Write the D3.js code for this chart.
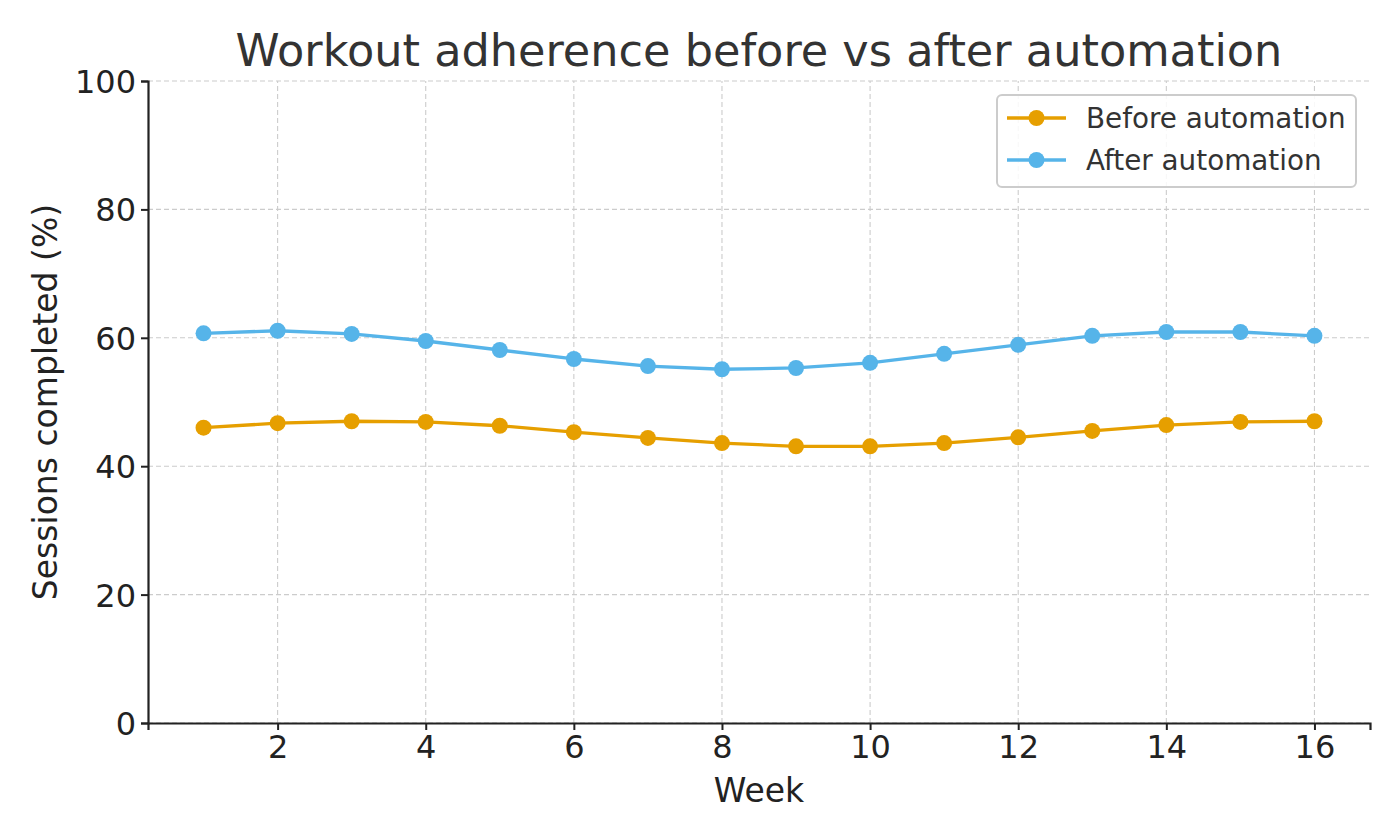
<!DOCTYPE html>
<html>
<head>
<meta charset="utf-8">
<script src="https://cdn.jsdelivr.net/npm/d3@7"></script>
<style>
  body { margin: 0; background: #fff; }
  svg { font-family: "DejaVu Sans", sans-serif; }
</style>
</head>
<body>
<div id="vis"></div>
<script>
// values
var weeks = [1, 2, 3, 4, 5, 6, 7, 8, 9, 10, 11, 12, 13, 14, 15, 16];
var beforeValues = [46.0, 46.7, 47.0, 46.9, 46.3, 45.3, 44.4, 43.6, 43.1, 43.1, 43.6, 44.5, 45.5, 46.4, 46.9, 47.0];
var afterValues = [60.7, 61.1, 60.6, 59.5, 58.1, 56.7, 55.6, 55.1, 55.3, 56.1, 57.5, 58.9, 60.3, 60.9, 60.9, 60.3];
var seriesNames = ["Before automation", "After automation"];
var seriesColours = ["#E69F00", "#56B4E9"];
var xTicks = [2, 4, 6, 8, 10, 12, 14, 16];
var yTicks = [0, 20, 40, 60, 80, 100];

var width = 1400, height = 840;
var margin = {top: 81, right: 30, bottom: 117, left: 148};

var svg = d3.select("#vis").append("svg")
    .attr("width", width)
    .attr("height", height);

var x = d3.scaleLinear().domain([0.25, 16.75]).range([margin.left, width - margin.right]);
var y = d3.scaleLinear().domain([0, 100]).range([height - margin.bottom, margin.top]);

// grid
var grid = svg.append("g").attr("stroke", "#cccccc").attr("stroke-width", 1.1).attr("stroke-dasharray", "5,3");
grid.selectAll(".vg").data(xTicks).enter().append("line")
    .attr("x1", d => x(d)).attr("x2", d => x(d))
    .attr("y1", y(0)).attr("y2", y(100));
grid.selectAll(".hg").data(yTicks).enter().append("line")
    .attr("x1", x.range()[0]).attr("x2", x.range()[1])
    .attr("y1", d => y(d)).attr("y2", d => y(d));

// axes
var xAxis = svg.append("g")
    .attr("transform", "translate(0," + y(0) + ")")
    .call(d3.axisBottom(x).tickValues(xTicks).tickSize(7).tickPadding(5).tickFormat(d3.format("d")));
var yAxis = svg.append("g")
    .attr("transform", "translate(" + x.range()[0] + ",0)")
    .call(d3.axisLeft(y).tickValues(yTicks).tickSize(7).tickPadding(5));

[xAxis, yAxis].forEach(function(a){
    a.select(".domain").attr("stroke", "#222").attr("stroke-width", 2.2);
    a.selectAll(".tick line").attr("stroke", "#222").attr("stroke-width", 2);
    a.selectAll(".tick text").attr("fill", "#222").style("font-size", "32px").style("font-family", "DejaVu Sans");
});
yAxis.selectAll(".tick text").attr("dy", "0.36em");

// lines + markers
var allValues = [beforeValues, afterValues];
var line = d3.line().x((d, i) => x(weeks[i])).y(d => y(d));

allValues.forEach(function(vals, k){
    svg.append("path")
        .datum(vals)
        .attr("fill", "none")
        .attr("stroke", seriesColours[k])
        .attr("stroke-width", 3.3)
        .attr("stroke-linejoin", "round")
        .attr("d", line);
    svg.append("g").selectAll("circle").data(vals).enter().append("circle")
        .attr("cx", (d, i) => x(weeks[i]))
        .attr("cy", d => y(d))
        .attr("r", 8)
        .attr("fill", seriesColours[k]);
});

// title and axis labels
svg.append("text")
    .attr("x", (x.range()[0] + x.range()[1]) / 2)
    .attr("y", 66)
    .attr("text-anchor", "middle")
    .attr("fill", "#333")
    .style("font-size", "44.6px")
    .text("Workout adherence before vs after automation");

svg.append("text")
    .attr("x", (x.range()[0] + x.range()[1]) / 2)
    .attr("y", 802)
    .attr("text-anchor", "middle")
    .attr("fill", "#222")
    .style("font-size", "33px")
    .text("Week");

svg.append("text")
    .attr("transform", "translate(57," + ((y(0) + y(100)) / 2) + ") rotate(-90)")
    .attr("text-anchor", "middle")
    .attr("fill", "#222")
    .style("font-size", "33px")
    .text("Sessions completed (%)");

// legend
var legend = svg.append("g").attr("transform", "translate(997,95)");
legend.append("rect")
    .attr("width", 359).attr("height", 92)
    .attr("rx", 5)
    .attr("fill", "#fff").attr("fill-opacity", 0.85)
    .attr("stroke", "#cccccc").attr("stroke-width", 2);
seriesNames.forEach(function(name, k){
    var gy = 23 + k * 42;
    legend.append("line")
        .attr("x1", 10).attr("x2", 69).attr("y1", gy).attr("y2", gy)
        .attr("stroke", seriesColours[k]).attr("stroke-width", 3.3);
    legend.append("circle")
        .attr("cx", 39.5).attr("cy", gy).attr("r", 8)
        .attr("fill", seriesColours[k]);
    legend.append("text")
        .attr("x", 89).attr("y", gy).attr("dy", "0.35em")
        .attr("fill", "#333")
        .style("font-size", "27.8px")
        .text(name);
});
</script>
</body>
</html>
